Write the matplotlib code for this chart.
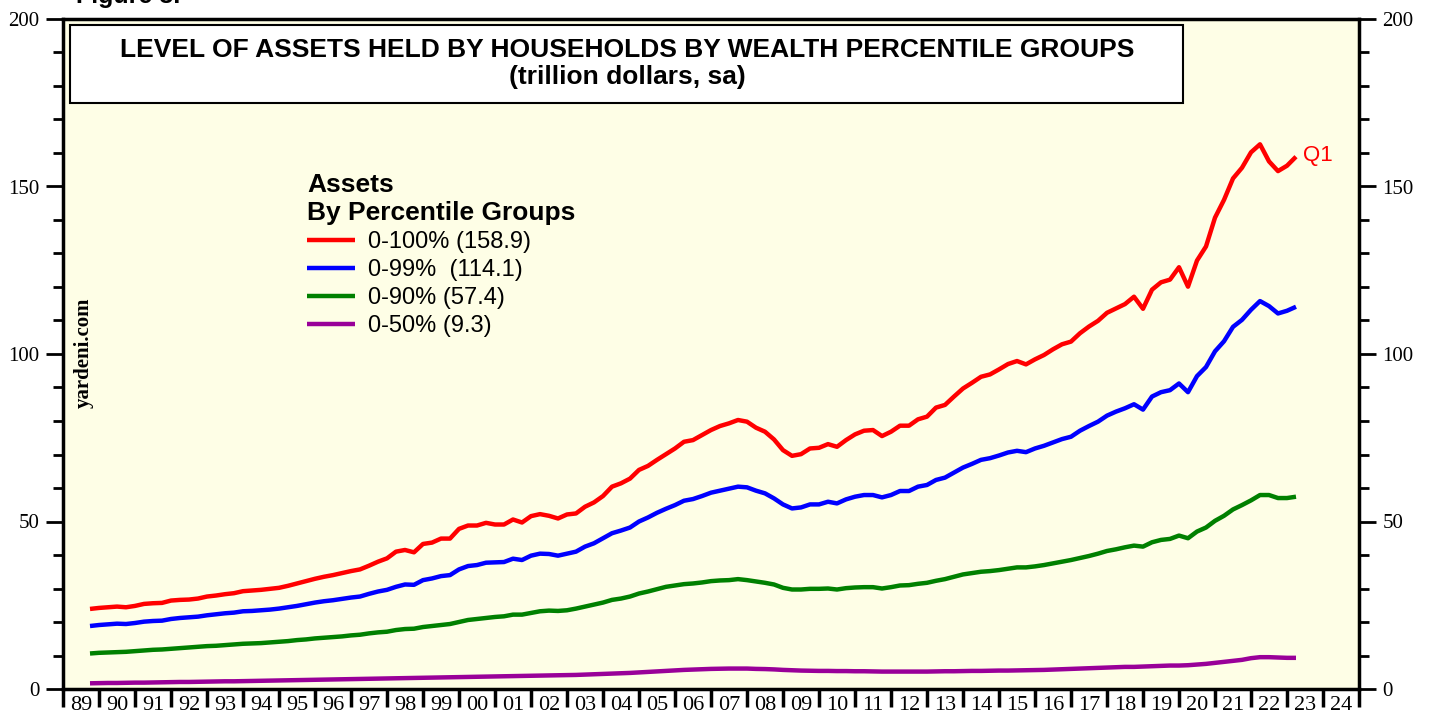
import numpy as np
import pandas as pd
import matplotlib.pyplot as plt
from matplotlib.ticker import MultipleLocator, FixedLocator, FixedFormatter
from matplotlib.patches import Rectangle

# quarterly data 1989Q3 .. 2023Q1, trillion dollars
quarters = pd.period_range('1989Q3', '2023Q1', freq='Q')

assets_0_100 = [
    23.9,
    24.2, 24.4, 24.6, 24.4,
    24.8, 25.4, 25.6, 25.7,
    26.4, 26.6, 26.7, 27.0,
    27.6, 27.9, 28.3, 28.6,
    29.2, 29.4, 29.6, 29.9,
    30.2, 30.8, 31.5, 32.2,
    32.9, 33.5, 34.0, 34.6,
    35.2, 35.7, 36.8, 38.0,
    39.0, 41.0, 41.5, 40.8,
    43.3, 43.7, 44.9, 44.9,
    47.8, 48.8, 48.8, 49.6,
    49.1, 49.1, 50.6, 49.7,
    51.6, 52.2, 51.7, 50.9,
    52.1, 52.4, 54.4, 55.7,
    57.6, 60.4, 61.4, 62.8,
    65.4, 66.6, 68.4, 70.1,
    71.8, 73.8, 74.3, 75.8,
    77.3, 78.5, 79.3, 80.3,
    79.8, 78.0, 76.8, 74.5,
    71.3, 69.6, 70.1, 71.8,
    72.0, 73.1, 72.3, 74.3,
    76.0, 77.1, 77.3, 75.5,
    76.8, 78.6, 78.6, 80.5,
    81.3, 84.0, 84.8, 87.3,
    89.7, 91.4, 93.2, 93.9,
    95.4, 97.0, 97.9, 96.9,
    98.4, 99.7, 101.4, 102.9,
    103.7, 106.2, 108.2, 109.9,
    112.3, 113.6, 114.9, 117.1,
    113.5, 119.2, 121.4, 122.2,
    125.9, 120.1, 127.9, 132.1,
    140.7, 146.0, 152.4, 155.6,
    160.2, 162.6, 157.5, 154.6,
    156.2, 158.9,
]

assets_0_99 = [
    18.8,
    19.1, 19.3, 19.5, 19.4,
    19.7, 20.1, 20.3, 20.4,
    20.9, 21.2, 21.4, 21.6,
    22.0, 22.3, 22.6, 22.8,
    23.2, 23.3, 23.5, 23.7,
    24.0, 24.4, 24.8, 25.3,
    25.8, 26.2, 26.5, 26.9,
    27.3, 27.6, 28.4, 29.1,
    29.6, 30.5, 31.2, 31.1,
    32.5, 33.0, 33.7, 34.0,
    35.7, 36.7, 37.0, 37.7,
    37.8, 37.9, 38.9, 38.5,
    39.8, 40.4, 40.3, 39.8,
    40.4, 41.0, 42.5, 43.5,
    45.0, 46.5, 47.3, 48.2,
    50.0, 51.2, 52.6, 53.8,
    54.9, 56.2, 56.7, 57.6,
    58.6, 59.2, 59.8, 60.4,
    60.2, 59.2, 58.4, 56.9,
    55.1, 53.9, 54.2, 55.1,
    55.1, 55.9, 55.4, 56.6,
    57.4, 57.9, 57.9, 57.2,
    57.9, 59.1, 59.1, 60.4,
    60.9, 62.4, 63.1, 64.6,
    66.1, 67.2, 68.4, 68.9,
    69.7, 70.6, 71.1, 70.7,
    71.8, 72.6, 73.6, 74.6,
    75.3, 77.1, 78.5, 79.8,
    81.6, 82.8, 83.8, 85.0,
    83.4, 87.3, 88.6, 89.2,
    91.2, 88.6, 93.4, 96.1,
    100.8, 103.8, 108.1, 110.2,
    113.2, 115.8, 114.3, 112.1,
    112.9, 114.1,
]

assets_0_90 = [
    10.6,
    10.8, 10.9, 11.0, 11.1,
    11.3, 11.5, 11.7, 11.8,
    12.0, 12.2, 12.4, 12.6,
    12.8, 12.9, 13.1, 13.3,
    13.5, 13.6, 13.7, 13.9,
    14.1, 14.3, 14.6, 14.8,
    15.1, 15.3, 15.5, 15.7,
    16.0, 16.2, 16.6, 16.9,
    17.1, 17.6, 17.9, 18.0,
    18.5, 18.8, 19.1, 19.4,
    20.0, 20.6, 20.9, 21.2,
    21.5, 21.7, 22.2, 22.2,
    22.7, 23.2, 23.4, 23.3,
    23.5, 24.0, 24.6, 25.2,
    25.8, 26.6, 27.0, 27.6,
    28.5, 29.1, 29.8, 30.5,
    30.9, 31.3, 31.5, 31.8,
    32.2, 32.4, 32.5, 32.8,
    32.5, 32.1, 31.7, 31.2,
    30.2, 29.7, 29.7, 29.9,
    29.9, 30.0, 29.7, 30.1,
    30.3, 30.4, 30.4, 30.0,
    30.4, 30.9, 31.0, 31.4,
    31.7, 32.3, 32.8, 33.5,
    34.2, 34.6, 35.0, 35.2,
    35.5, 35.9, 36.3, 36.3,
    36.6, 37.0, 37.5, 38.0,
    38.5, 39.1, 39.7, 40.4,
    41.2, 41.7, 42.3, 42.8,
    42.5, 43.8, 44.5, 44.8,
    45.8, 45.0, 47.0, 48.2,
    50.2, 51.7, 53.6, 54.9,
    56.3, 57.9, 57.9, 57.0,
    57.0, 57.4,
]

assets_0_50 = [
    1.7,
    1.75, 1.8, 1.8, 1.85,
    1.9, 1.9, 1.95, 2.0,
    2.05, 2.1, 2.1, 2.15,
    2.2, 2.25, 2.3, 2.3,
    2.35, 2.4, 2.45, 2.5,
    2.55, 2.6, 2.65, 2.7,
    2.75, 2.8, 2.85, 2.9,
    2.95, 3.0, 3.05, 3.1,
    3.15, 3.2, 3.25, 3.3,
    3.35, 3.4, 3.45, 3.5,
    3.55, 3.6, 3.65, 3.7,
    3.75, 3.8, 3.85, 3.9,
    3.95, 4.0, 4.05, 4.1,
    4.15, 4.2, 4.3, 4.4,
    4.5, 4.6, 4.7, 4.8,
    4.95, 5.1, 5.25, 5.4,
    5.55, 5.7, 5.8, 5.9,
    6.0, 6.05, 6.1, 6.1,
    6.1, 6.0, 5.95, 5.85,
    5.7, 5.6, 5.5, 5.45,
    5.4, 5.4, 5.35, 5.35,
    5.3, 5.3, 5.25, 5.2,
    5.2, 5.2, 5.2, 5.2,
    5.2, 5.25, 5.3, 5.3,
    5.35, 5.4, 5.4, 5.45,
    5.5, 5.5, 5.55, 5.6,
    5.65, 5.7, 5.8, 5.9,
    6.0, 6.1, 6.2, 6.3,
    6.4, 6.5, 6.6, 6.6,
    6.7, 6.8, 6.9, 7.0,
    7.0, 7.1, 7.3, 7.5,
    7.8, 8.1, 8.4, 8.7,
    9.2, 9.5, 9.5, 9.4,
    9.3, 9.3,
]

labels = ['0-100% (158.9)', '0-99%  (114.1)', '0-90% (57.4)', '0-50% (9.3)']
colors = ['#ff0000', '#0000ff', '#008000', '#990099']
years = list(range(1989, 2026))   # tick marks at year boundaries

# plot at end of each quarter
x = quarters.year + quarters.quarter / 4.0

fig = plt.figure(figsize=(14.29, 7.23), dpi=100)
ax = fig.add_axes([63 / 1429, 34 / 723, 1296 / 1429, 670 / 723])
ax.set_facecolor('#fefee6')

series = [assets_0_100, assets_0_99, assets_0_90, assets_0_50]
for vals, c, lab in zip(series, colors, labels):
    ax.plot(x, vals, color=c, lw=3.2, label=lab, solid_capstyle='butt')

ax.set_xlim(1989, 2025)
ax.set_ylim(0, 200)

# y axis, both sides
ax.yaxis.set_major_locator(MultipleLocator(50))
ax.yaxis.set_minor_locator(MultipleLocator(10))
ax.tick_params(axis='y', which='both', direction='out', left=True, right=True,
               labelleft=True, labelright=True, width=2, labelsize=15, pad=5)
ax.tick_params(axis='y', which='major', length=12)
ax.tick_params(axis='y', which='minor', length=7)

# x axis: tick marks at year boundaries, labels centered in the year
ax.xaxis.set_major_locator(FixedLocator(years))
ax.xaxis.set_major_formatter(FixedFormatter([''] * len(years)))
ax.xaxis.set_minor_locator(FixedLocator([y + 0.5 for y in years[:-1]]))
ax.xaxis.set_minor_formatter(FixedFormatter([str(y)[2:] for y in years[:-1]]))
ax.tick_params(axis='x', which='major', direction='out', length=13, width=2.5)
ax.tick_params(axis='x', which='minor', length=0, labelsize=16, pad=5)

for lbl in ax.get_xticklabels(minor=True) + ax.get_yticklabels():
    lbl.set_fontfamily('Liberation Serif')
for t in ax.yaxis.get_majorticklabels():
    t.set_fontfamily('Liberation Serif')

for s in ax.spines.values():
    s.set_linewidth(2.5)

# title box
ax.add_patch(Rectangle((70 / 1429, 1 - 103 / 723), 1113 / 1429, 78 / 723,
                       transform=fig.transFigure, facecolor='white',
                       edgecolor='black', lw=1.5, zorder=5, clip_on=False))
fig.text(627 / 1429, 1 - 50 / 723,
         'LEVEL OF ASSETS HELD BY HOUSEHOLDS BY WEALTH PERCENTILE GROUPS',
         ha='center', va='center', fontsize=19, fontweight='bold',
         family='Liberation Sans', zorder=6)
fig.text(627 / 1429, 1 - 77 / 723, '(trillion dollars, sa)',
         ha='center', va='center', fontsize=19, fontweight='bold',
         family='Liberation Sans', zorder=6)

fig.text(76 / 1429, 1 - 3 / 723, 'Figure 3.', ha='left', va='baseline',
         fontsize=18, fontweight='bold', family='Liberation Sans')

# legend
leg = ax.legend(loc='upper left', bbox_to_anchor=(235 / 1296, 1 - 145 / 670),
                frameon=False, title='Assets\nBy Percentile Groups',
                prop={'family': 'Liberation Sans', 'size': 17},
                handlelength=2.0, handletextpad=0.55, labelspacing=0.25,
                borderaxespad=0)
leg.get_title().set_fontweight('bold')
leg.get_title().set_fontsize(19)
leg.get_title().set_fontfamily('Liberation Sans')
leg._legend_box.align = 'left'

ax.text(x[-1] + 0.2, assets_0_100[-1] + 0.5, 'Q1', color='#ff0000',
        fontsize=16, fontfamily='Liberation Sans', va='center', ha='left')

fig.text(84 / 1429, 1 - 353 / 723, 'yardeni.com', rotation=90,
         ha='center', va='center', fontsize=15, fontweight='bold',
         family='Liberation Serif')

plt.savefig('out.png', dpi=100)
